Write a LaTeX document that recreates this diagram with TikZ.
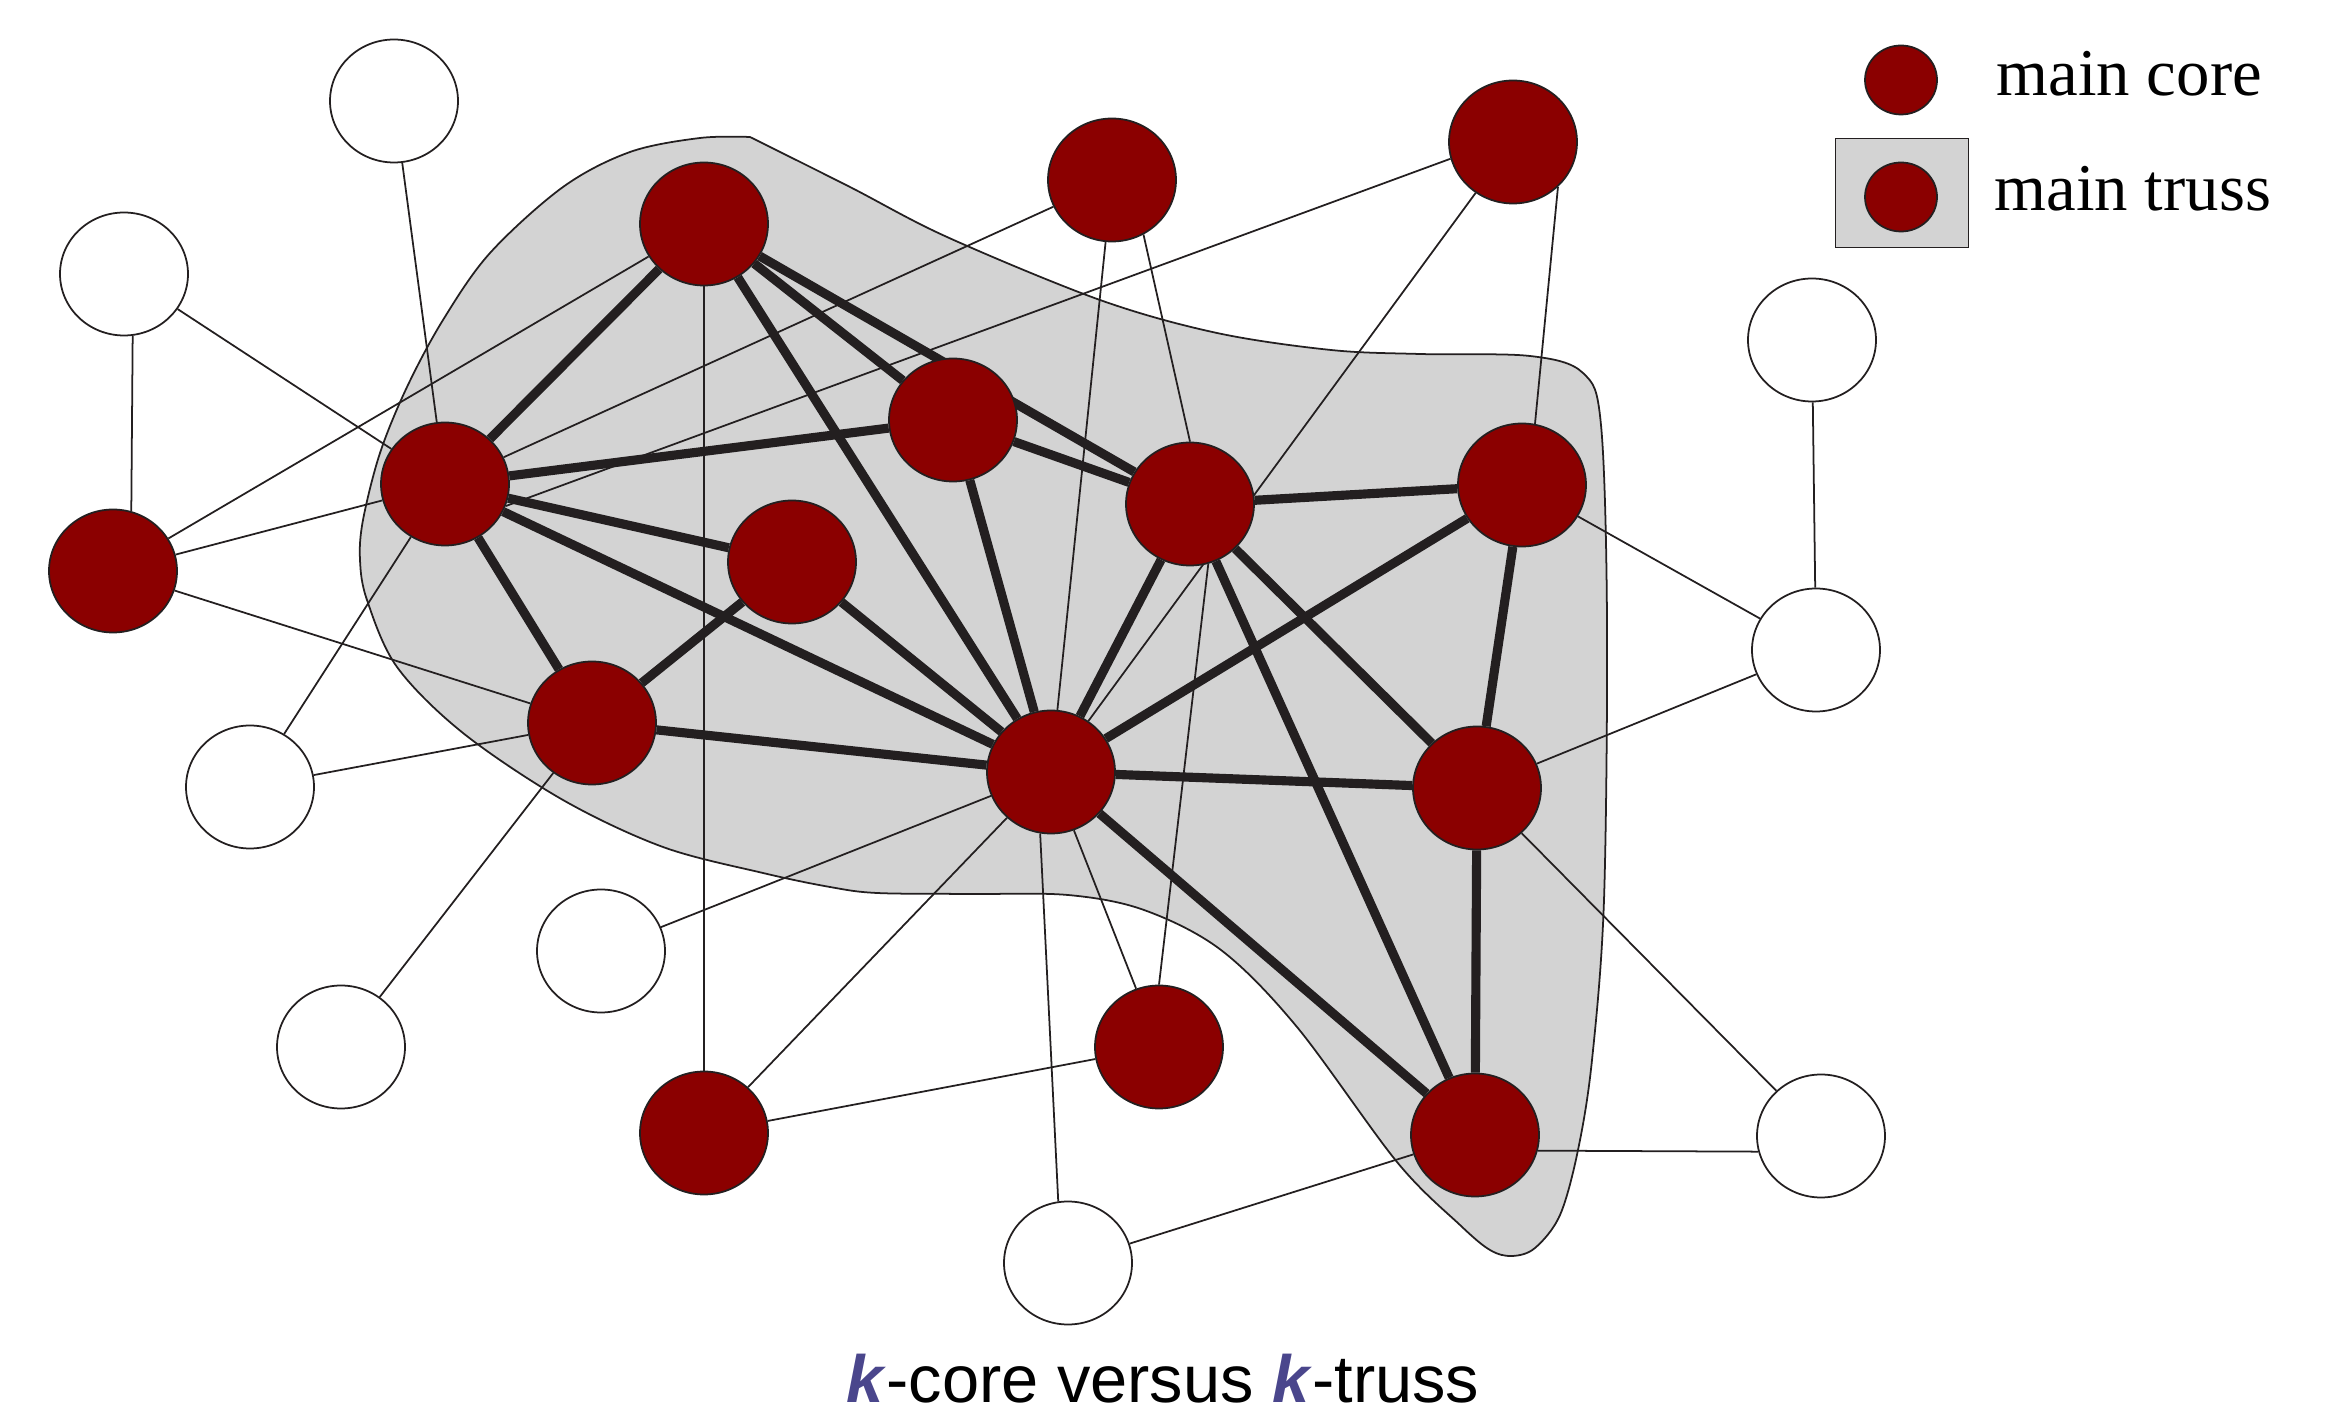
\documentclass[tikz,border=0pt]{standalone}
\usepackage{fontspec}
\setmainfont{Liberation Serif}
\newfontfamily\captionfont{Liberation Sans}
\usetikzlibrary{shapes.geometric,backgrounds}
\definecolor{corered}{RGB}{139,0,0}
\definecolor{edgegray}{RGB}{35,31,32}
\definecolor{trussgray}{RGB}{211,211,211}
\definecolor{kblue}{RGB}{74,70,140}

\begin{document}
\begin{tikzpicture}[x=0.1mm,y=-0.1mm]
\tikzset{core/.style = {shape=ellipse,draw=edgegray,line width=0.5pt,fill=corered,minimum width=12.8mm,minimum height=12.3mm,inner sep=0pt}}
\tikzset{other/.style = {core,fill=white}}
\tikzset{strong/.style = {draw=edgegray,line width=2.6pt}}
\tikzset{weak/.style = {draw=edgegray,line width=0.5pt}}
\useasboundingbox (0,0) rectangle (2338,1411);

% core vertices
\node[core] (a) at (704,224) {};
\node[core] (b) at (1112,180) {};
\node[core] (c) at (1513,142) {};
\node[core] (d) at (953,420) {};
\node[core] (e) at (445,484) {};
\node[core] (f) at (1190,504) {};
\node[core] (g) at (1522,485) {};
\node[core] (h) at (113,571) {};
\node[core] (i) at (792,562) {};
\node[core] (j) at (592,723) {};
\node[core] (k) at (1051,772) {};
\node[core] (l) at (1477,788) {};
\node[core] (m) at (1159,1047) {};
\node[core] (n) at (704,1133) {};
\node[core] (o) at (1475,1135) {};

% other vertices
\node[other] (p) at (394,101) {};
\node[other] (q) at (124,274) {};
\node[other] (r) at (250,787) {};
\node[other] (s) at (601,951) {};
\node[other] (t) at (341,1047) {};
\node[other] (u) at (1068,1263) {};
\node[other] (v) at (1812,340) {};
\node[other] (w) at (1816,650) {};
\node[other] (x) at (1821,1136) {};

\begin{scope}[on background layer]
% main truss region
\draw[edgegray,line width=0.5pt,fill=trussgray] plot[smooth,tension=0.55] coordinates {(750,137) (850,187) (947,237) (1100,300) (1217,333) (1331,350) (1420,354) (1530,356) (1583,373) (1601,425) (1607,620) (1604,900) (1592,1060) (1578,1150) (1560,1215) (1535,1248) (1512,1256) (1490,1250) (1460,1225) (1397,1162) (1297,1027) (1221,950) (1144,910) (1068,895) (970,894) (877,893) (830,887) (763,873) (663,847) (563,800) (463,733) (397,667) (367,600) (360,560) (363,520) (380,453) (407,387) (443,320) (490,253) (563,187) (630,152) (700,138) (750,137)} -- cycle;

%edges
\draw[strong] (a) to[] (e);
\draw[strong] (a) to[] (d);
\draw[strong] (a) to[] (f);
\draw[strong] (a) to[] (k);
\draw[strong] (e) to[] (d);
\draw[strong] (e) to[] (i);
\draw[strong] (e) to[] (k);
\draw[strong] (e) to[] (j);
\draw[strong] (i) to[] (j);
\draw[strong] (i) to[] (k);
\draw[strong] (j) to[] (k);
\draw[strong] (d) to[] (f);
\draw[strong] (d) to[] (k);
\draw[strong] (f) to[] (k);
\draw[strong] (f) to[] (g);
\draw[strong] (f) to[] (l);
\draw[strong] (f) to[] (o);
\draw[strong] (g) to[] (k);
\draw[strong] (g) to[] (l);
\draw[strong] (k) to[] (l);
\draw[strong] (k) to[] (o);
\draw[strong] (l) to[] (o);

\draw[weak] (p) to[] (e);
\draw[weak] (q.-82) to[] (h.73);
\draw[weak] (q) to[] (e);
\draw[weak] (h) to[] (a);
\draw[weak] (h) to[] (e);
\draw[weak] (h) to[] (j);
\draw[weak] (e) to[] (b);
\draw[weak] (e.-20) to[] (c.195);
\draw[weak] (a) to[] (n);
\draw[weak] (b) to[] (k);
\draw[weak] (b.-60) to[] (f.north);
\draw[weak] (c.-45) to[] (g.78);
\draw[weak] (c) to[] (k);
\draw[weak] (f.-73) to[] (m.north);
\draw[weak] (k) to[] (s);
\draw[weak] (k) to[] (n);
\draw[weak] (k.-100) to[] (u.99);
\draw[weak] (k) to[] (m);
\draw[weak] (m) to[] (n);
\draw[weak] (o) to[] (u);
\draw[weak] (o.-14) to[] (x.194);
\draw[weak] (l) to[] (x);
\draw[weak] (l) to[] (w);
\draw[weak] (g) to[] (w);
\draw[weak] (v) to[] (w);
\draw[weak] (r) to[] (e);
\draw[weak] (r) to[] (j);
\draw[weak] (t) to[] (j);
\end{scope}

% legend
\node[draw=edgegray,line width=0.5pt,fill=trussgray,minimum width=13.3mm,minimum height=10.9mm,inner sep=0pt] (trussbox) at (1902,193) {};
\node[core,minimum width=7.2mm,minimum height=6.9mm] (coredot) at (1901,80) {};
\node[core,minimum width=7.2mm,minimum height=6.9mm] (trussdot) at (1901,197) {};
\node[anchor=base west,inner sep=0pt,font=\fontsize{19}{23}\selectfont] (corelabel) at (1996,96) {main core};
\node[anchor=base west,inner sep=0pt,font=\fontsize{19}{23}\selectfont] (trusslabel) at (1994,211) {main truss};

% caption
\node[anchor=base,inner sep=0pt,font=\captionfont\fontsize{19}{23}\selectfont] (caption) at (1163,1402) {\textcolor{kblue}{\textbf{\textit{k}}}-core versus \textcolor{kblue}{\textbf{\textit{k}}}-truss};
\end{tikzpicture}
\end{document}
